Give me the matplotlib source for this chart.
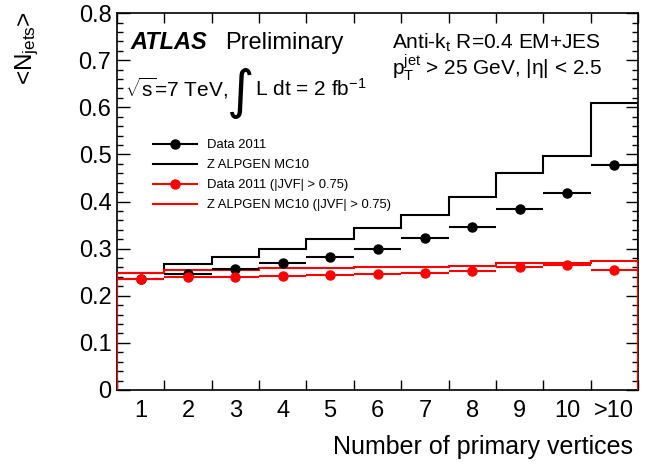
import numpy as np
import matplotlib
matplotlib.use("Agg")
import matplotlib.pyplot as plt
from matplotlib.ticker import MultipleLocator, FuncFormatter
from matplotlib.lines import Line2D

plt.rcParams['font.family'] = ['Liberation Sans', 'DejaVu Sans']
plt.rcParams['mathtext.fontset'] = 'custom'
plt.rcParams['mathtext.rm'] = 'Liberation Sans'
plt.rcParams['mathtext.it'] = 'Liberation Sans:italic'
plt.rcParams['mathtext.bf'] = 'Liberation Sans:bold'

# bins: number of primary vertices
labels_x = ['1', '2', '3', '4', '5', '6', '7', '8', '9', '10', '>10']

# <N_jets> per bin
data_2011 = [0.235, 0.246, 0.256, 0.269, 0.283, 0.299, 0.322, 0.347, 0.384, 0.418, 0.478]
mc_alpgen = [0.249, 0.267, 0.282, 0.300, 0.320, 0.344, 0.372, 0.409, 0.461, 0.497, 0.610]
data_jvf = [0.235, 0.240, 0.239, 0.243, 0.245, 0.246, 0.249, 0.253, 0.261, 0.265, 0.255]
mc_jvf = [0.249, 0.255, 0.255, 0.259, 0.259, 0.260, 0.260, 0.263, 0.269, 0.269, 0.273]
err_data = [0.002, 0.002, 0.002, 0.002, 0.002, 0.002, 0.002, 0.003, 0.003, 0.004, 0.004]

centers = np.arange(1, len(labels_x) + 1)
edges = np.arange(0.5, len(labels_x) + 1.0, 1.0)

fig = plt.figure(figsize=(6.48, 4.68), dpi=100)
ax = fig.add_axes([0.1806, 0.1667, 0.804, 0.8053])

# histogramas MC
ax.stairs(mc_alpgen, edges, color='black', lw=1.5, zorder=2)
ax.stairs(mc_jvf, edges, color='red', lw=1.5, zorder=3)

# datos
ax.errorbar(centers, data_2011, xerr=0.5, yerr=err_data, fmt='o', color='black',
            ms=6.5, lw=1.5, capsize=0, zorder=4)
ax.errorbar(centers, data_jvf, xerr=0.5, yerr=err_data, fmt='o', color='red',
            ms=6.5, lw=1.5, capsize=0, zorder=5)

ax.set_xlim(0.5, 11.5)
ax.set_ylim(0, 0.8)

# ejes estilo ROOT
ax.yaxis.set_major_locator(MultipleLocator(0.1))
ax.yaxis.set_minor_locator(MultipleLocator(0.02))
ax.yaxis.set_major_formatter(FuncFormatter(lambda v, p: '0' if v == 0 else f'{v:.1f}'))
ax.tick_params(axis='y', which='both', direction='in', left=True, right=True, labelsize=17, pad=4)
ax.tick_params(axis='y', which='major', length=9, width=1)
ax.tick_params(axis='y', which='minor', length=4.5, width=1)

ax.set_xticks(edges, minor=True)
ax.set_xticks(centers)
ax.set_xticklabels(labels_x)
ax.tick_params(axis='x', which='major', length=0, labelsize=17, pad=7)
ax.tick_params(axis='x', which='minor', direction='in', top=True, bottom=True, length=7, width=1)

for s in ax.spines.values():
    s.set_linewidth(1.2)

ax.set_ylabel(r'<N$_{\mathrm{jets}}$>', fontsize=17.5, loc='top')
ax.yaxis.set_label_coords(-0.145, 1.005)
ax.set_xlabel('Number of primary vertices', fontsize=18, loc='right')
ax.xaxis.set_label_coords(0.99, -0.12)

# textos
ax.text(0.025, 0.905, 'ATLAS', transform=ax.transAxes, fontsize=17, fontweight='bold',
        fontstyle='italic', va='baseline')
ax.text(0.207, 0.905, 'Preliminary', transform=ax.transAxes, fontsize=17, va='baseline')
ax.text(0.015, 0.78, r'$\sqrt{\mathrm{s}}$=7 TeV, ', transform=ax.transAxes, fontsize=15,
        va='baseline')
ax.text(0.212, 0.748, '\u222b', transform=ax.transAxes, fontsize=38, va='baseline',
        family='DejaVu Sans')
ax.text(0.264, 0.78, r'L dt = 2 fb$^{-1}$', transform=ax.transAxes, fontsize=15, va='baseline')
ax.text(0.527, 0.905, r'Anti-k$_{\mathrm{t}}$ R=0.4 EM+JES', transform=ax.transAxes,
        fontsize=15, va='baseline')
ax.text(0.527, 0.835, r'p$_{\mathrm{T}}^{\mathrm{jet}}$ > 25 GeV, |$\mathrm{\eta}$| < 2.5',
        transform=ax.transAxes, fontsize=15, va='baseline')

# leyenda
hl = [Line2D([], [], color='black', lw=1.5, marker='o', ms=6.5),
      Line2D([], [], color='black', lw=1.5),
      Line2D([], [], color='red', lw=1.5, marker='o', ms=6.5),
      Line2D([], [], color='red', lw=1.5)]
nombres = ['Data 2011', 'Z ALPGEN MC10', 'Data 2011 (|JVF| > 0.75)', 'Z ALPGEN MC10 (|JVF| > 0.75)']
ax.legend(hl, nombres, loc='upper left', bbox_to_anchor=(0.069, 0.665), frameon=False,
          fontsize=9.4, handlelength=3.4, handletextpad=0.7, labelspacing=0.6,
          borderpad=0, borderaxespad=0)

fig.savefig('out.png', dpi=100)
